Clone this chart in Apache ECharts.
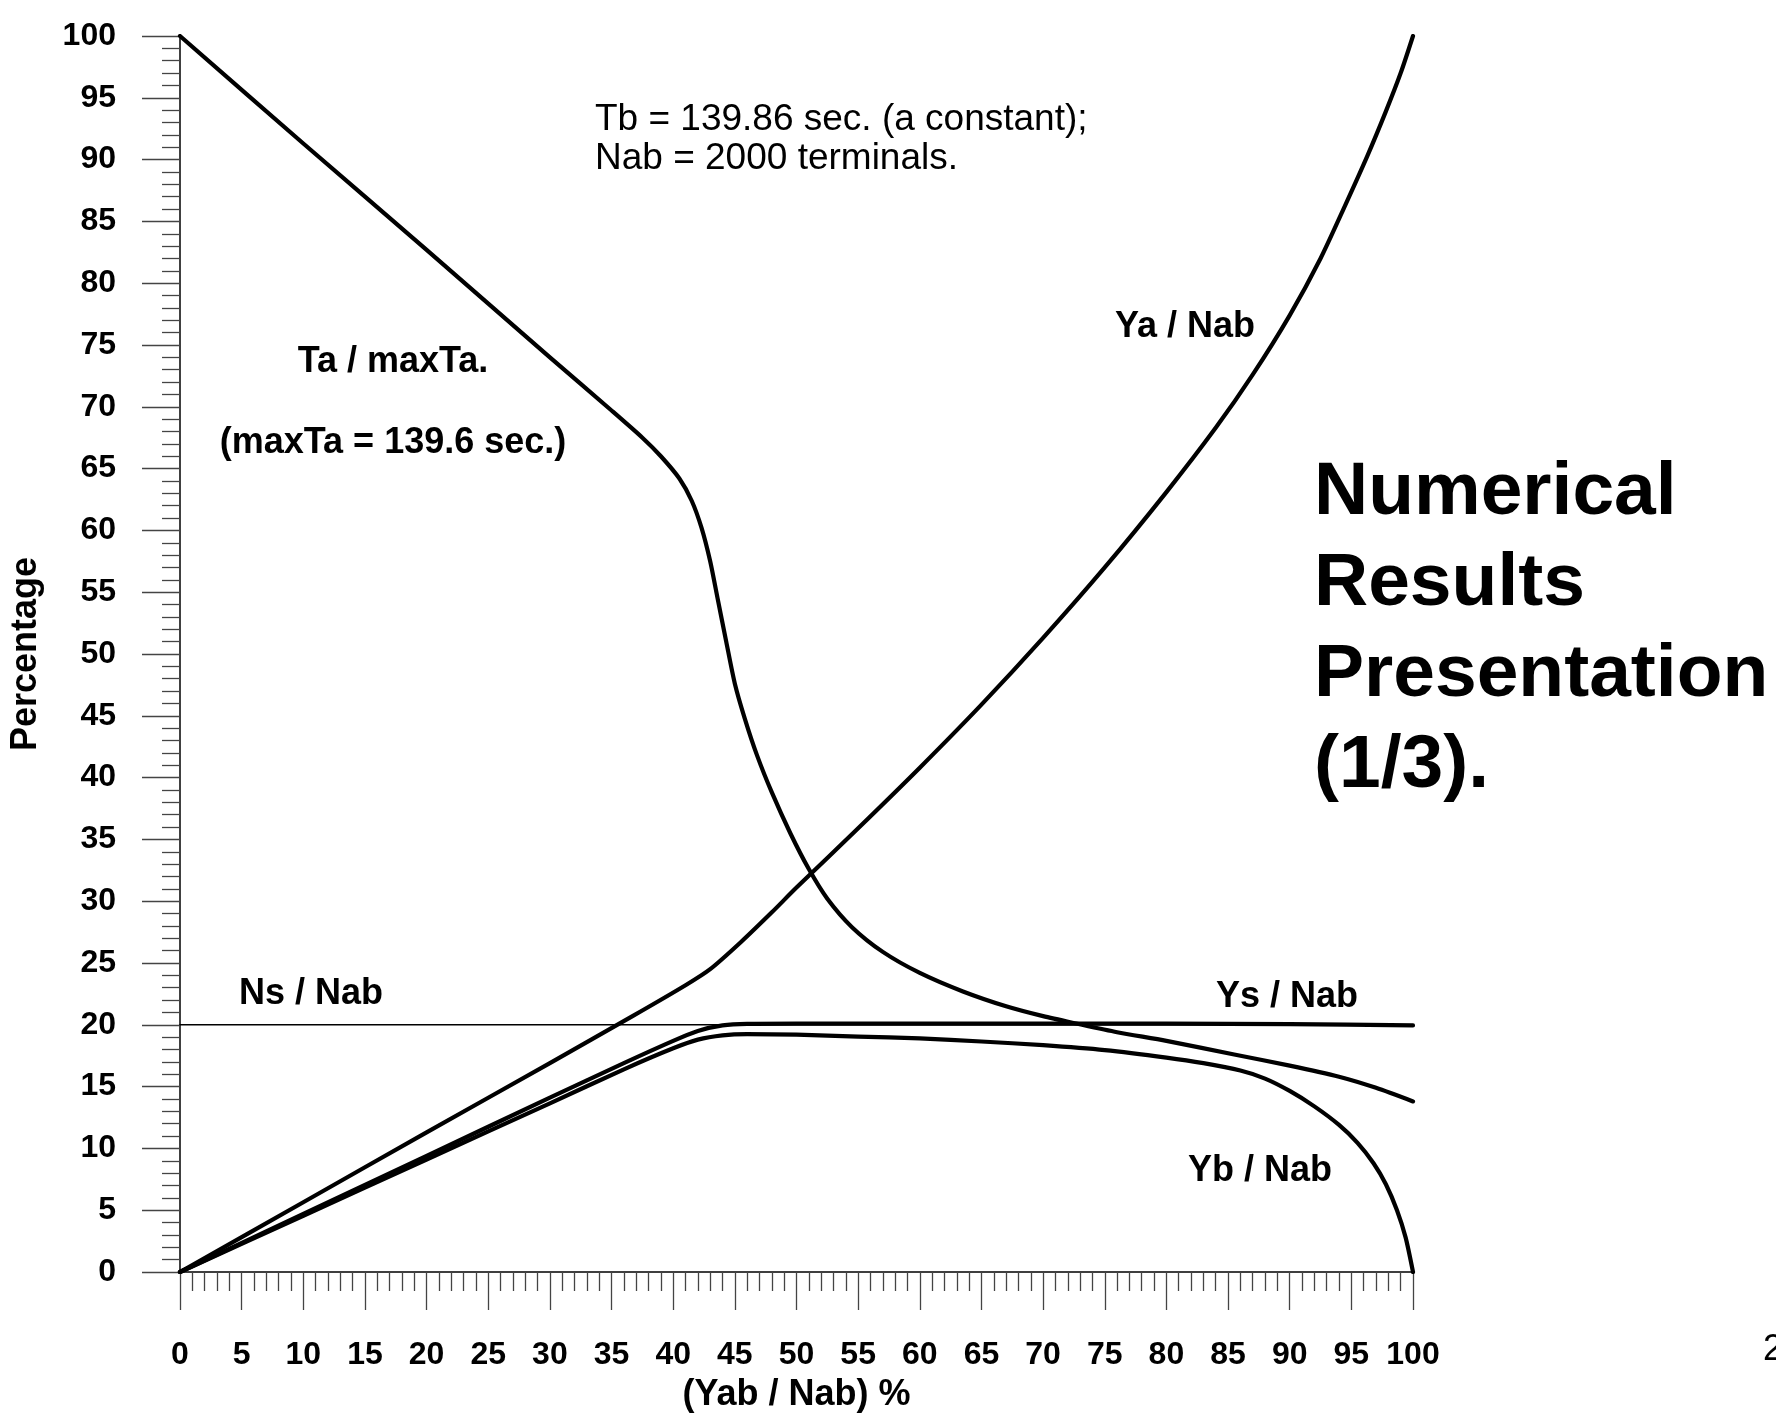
<!DOCTYPE html>
<html>
<head>
<meta charset="utf-8">
<script src="https://cdn.jsdelivr.net/npm/echarts@6/dist/echarts.min.js"></script>
<style>
html,body{margin:0;padding:0;background:#fff;}
#chart{width:1776px;height:1418px;}
</style>
</head>
<body>
<div id="chart"></div>
<script>
// ---- data ----
const taX = [0, 10, 20, 30, 35, 37.5, 39, 40.5, 41.5, 42.3, 43, 43.6, 44.3, 45, 45.8, 46.8, 48, 49.5, 51, 52.5, 54.5, 57, 60, 63.5, 67, 70, 72.7, 76, 80, 85.5, 90, 94, 97, 100];
const taY = [100, 91.3, 82.7, 74.0, 69.7, 67.5, 66.0, 64.2, 62.4, 60.2, 57.5, 54.5, 51.0, 47.6, 44.8, 41.8, 38.8, 35.5, 32.6, 30.2, 27.9, 25.9, 24.2, 22.7, 21.5, 20.7, 20.1, 19.4, 18.7, 17.6, 16.7, 15.8, 14.9, 13.8];

const yaX = [0, 10, 20, 30, 36.7, 41, 43, 45.5, 48, 50, 55, 60, 65, 70, 75, 80, 84, 87, 90, 92.5, 94.5, 96.3, 97.8, 99, 100];
const yaY = [0, 5.64, 11.3, 16.9, 20.7, 23.2, 24.5, 26.7, 29.1, 31.1, 35.9, 40.8, 45.9, 51.3, 57.0, 63.1, 68.3, 72.6, 77.4, 82.0, 86.3, 90.3, 93.9, 97.0, 100];

const ysX = [0, 10, 20, 30, 36, 40, 42, 44, 46, 50, 60, 80, 90, 100];
const ysY = [0, 4.7, 9.4, 14.1, 16.9, 18.7, 19.5, 19.95, 20.08, 20.1, 20.1, 20.1, 20.05, 19.95];

const ybX = [0, 10, 20, 30, 36, 40, 42, 44, 46, 50, 55, 60, 65, 70, 75, 80, 83, 86, 88, 90, 92, 94, 95.5, 96.8, 97.8, 98.7, 99.4, 100];
const ybY = [0, 4.55, 9.1, 13.65, 16.4, 18.1, 18.8, 19.15, 19.25, 19.2, 19.05, 18.9, 18.65, 18.35, 17.95, 17.35, 16.9, 16.3, 15.65, 14.65, 13.4, 11.9, 10.45, 8.8, 7.1, 5.0, 2.8, 0];

const nsX = [0, 100];
const nsY = [20, 20];

const xAxisName = '(Yab / Nab) %';
const yAxisName = 'Percentage';

const zip = (xs, ys) => xs.map((x, i) => [x, ys[i]]);

const FONT = '"Liberation Sans", Arial, Helvetica, sans-serif';
const chart = echarts.init(document.getElementById('chart'));

function lineSeries(name, xs, ys, width, smooth) {
  return {
    name: name, type: 'line', data: zip(xs, ys), showSymbol: false, symbol: 'none',
    smooth: smooth,
    lineStyle: {color: '#000', width: width, cap: 'round', join: 'round'}, silent: true, z: 3
  };
}

function txt(text, x, y, size, bold, align) {
  return {
    type: 'text', x: x, y: y, silent: true,
    style: {text: text, fill: '#000', font: (bold ? 'bold ' : '') + size + 'px ' + FONT,
      textAlign: align || 'center', textVerticalAlign: 'middle'}
  };
}

const option = {
  backgroundColor: '#fff',
  animation: false,
  grid: {left: 171, top: 36, width: 1242, height: 1243, containLabel: false},
  xAxis: {
    type: 'value', min: 0, max: 100, interval: 5,
    name: xAxisName, nameLocation: 'middle', nameGap: 105,
    nameTextStyle: {fontFamily: FONT, fontWeight: 'bold', fontSize: 36, color: '#000'},
    axisLine: {show: true, onZero: false, lineStyle: {color: '#000', width: 1.5}},
    axisTick: {show: true, length: 38, lineStyle: {color: '#444', width: 1.3}},
    minorTick: {show: true, splitNumber: 5, length: 19, lineStyle: {color: '#444', width: 1.3}},
    axisLabel: {margin: 67, fontFamily: FONT, fontWeight: 'bold', fontSize: 32, color: '#000'},
    splitLine: {show: false}, minorSplitLine: {show: false}
  },
  yAxis: {
    type: 'value', min: 0, max: 100, interval: 5,
    name: yAxisName, nameLocation: 'middle', nameGap: 136, nameRotate: 90,
    nameTextStyle: {fontFamily: FONT, fontWeight: 'bold', fontSize: 36, color: '#000'},
    axisLine: {show: true, onZero: false, lineStyle: {color: '#000', width: 1.5}},
    axisTick: {show: true, length: 38, lineStyle: {color: '#444', width: 1.3}},
    minorTick: {show: true, splitNumber: 5, length: 18, lineStyle: {color: '#444', width: 1.3}},
    axisLabel: {margin: 64, fontFamily: FONT, fontWeight: 'bold', fontSize: 32, color: '#000'},
    splitLine: {show: false}, minorSplitLine: {show: false}
  },
  series: [
    lineSeries('Ns / Nab', nsX, nsY, 1.6, false),
    lineSeries('Ta / maxTa', taX, taY, 4.2, 0.25),
    lineSeries('Ya / Nab', yaX, yaY, 4.2, 0.25),
    lineSeries('Ys / Nab', ysX, ysY, 4.2, 0.25),
    lineSeries('Yb / Nab', ybX, ybY, 4.2, 0.25)
  ],
  graphic: [
    {type: 'text', x: 595, y: 100, silent: true,
     style: {text: 'Tb = 139.86 sec. (a constant);\nNab = 2000 terminals.', fill: '#000',
       font: '37px ' + FONT, lineHeight: 39, textAlign: 'left', textVerticalAlign: 'top'}},
    txt('Ta / maxTa.', 393, 362, 36, true),
    txt('(maxTa = 139.6 sec.)', 393, 443, 36, true),
    txt('Ya / Nab', 1185, 327, 36, true),
    txt('Ns / Nab', 311, 994, 36, true),
    txt('Ys / Nab', 1287, 997, 36, true),
    txt('Yb / Nab', 1260, 1171, 36, true),
    {type: 'text', x: 1314, y: 448, silent: true,
     style: {text: 'Numerical\nResults\nPresentation\n(1/3).', fill: '#000',
       font: 'bold 75px ' + FONT, lineHeight: 91, textAlign: 'left', textVerticalAlign: 'top'}},
    txt('2', 1763, 1350, 36, false, 'left')
  ]
};
chart.setOption(option);
</script>
</body>
</html>
